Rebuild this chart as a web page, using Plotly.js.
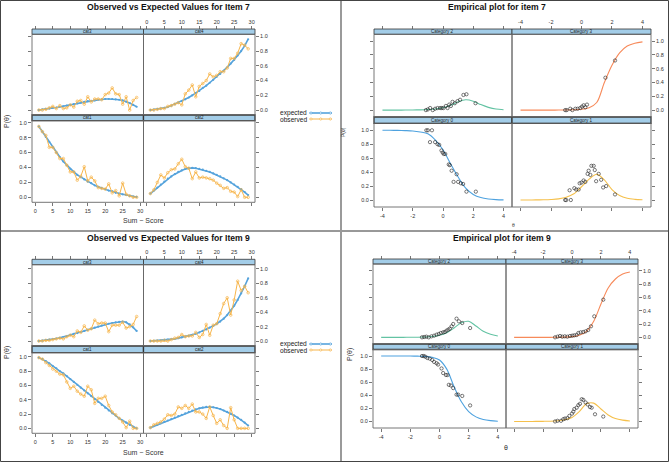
<!DOCTYPE html>
<html><head><meta charset="utf-8">
<script src="https://cdn.plot.ly/plotly-3.0.1.min.js"></script>
<style>html,body{margin:0;padding:0;background:#fff}#chart{width:669px;height:462px}</style>
</head><body><div id="chart"></div>
<script>
// ---------- DATA ----------
const sumScore = [1,2,3,4,5,6,7,8,9,10,11,12,13,14,15,16,17,18,19,20,21,22,23,24,25,26,27,28,29];

// Item 7 observed vs expected
const exp7_cat1 = [0.95,0.88,0.81,0.74,0.67,0.60,0.54,0.48,0.43,0.38,0.34,0.30,0.27,0.24,0.21,0.19,0.16,0.14,0.12,0.11,0.09,0.08,0.06,0.05,0.04,0.03,0.02,0.01,0.005];
const obs7_cat1 = [0.95,0.88,0.83,0.67,0.67,0.60,0.52,0.52,0.43,0.34,0.34,0.23,0.28,0.41,0.22,0.27,0.22,0.13,0.12,0.11,0.18,0.06,0.09,0.02,0.19,0.04,0.02,0.00,0.00];
const exp7_cat2 = [0.05,0.09,0.13,0.17,0.21,0.25,0.28,0.31,0.34,0.36,0.38,0.39,0.395,0.39,0.38,0.37,0.355,0.34,0.32,0.30,0.28,0.255,0.23,0.20,0.17,0.14,0.11,0.07,0.03];
const obs7_cat2 = [0.05,0.10,0.20,0.30,0.26,0.33,0.37,0.38,0.45,0.51,0.41,0.39,0.25,0.34,0.26,0.27,0.26,0.25,0.23,0.19,0.16,0.12,0.13,0.08,0.07,0.01,0.10,0.00,0.00];
const exp7_cat3 = [0.00,0.01,0.015,0.02,0.03,0.035,0.045,0.05,0.06,0.07,0.08,0.09,0.10,0.11,0.12,0.125,0.13,0.14,0.145,0.15,0.15,0.15,0.145,0.14,0.13,0.115,0.095,0.07,0.045];
const obs7_cat3 = [0.00,0.00,0.01,0.03,0.05,0.02,0.06,0.02,0.03,0.07,0.04,0.12,0.13,0.08,0.18,0.11,0.15,0.15,0.14,0.21,0.23,0.30,0.22,0.21,0.08,0.18,0.00,0.13,0.17];
const exp7_cat4 = [0.00,0.005,0.01,0.02,0.03,0.04,0.06,0.08,0.10,0.12,0.145,0.17,0.20,0.23,0.26,0.30,0.33,0.37,0.41,0.45,0.49,0.53,0.58,0.63,0.68,0.74,0.80,0.87,0.96];
const obs7_cat4 = [0.00,0.00,0.01,0.02,0.02,0.05,0.06,0.08,0.10,0.07,0.22,0.27,0.34,0.18,0.32,0.36,0.40,0.49,0.45,0.47,0.52,0.52,0.57,0.70,0.70,0.77,0.90,0.88,0.83];

// Item 9 observed vs expected
const exp9_cat1 = [0.99,0.97,0.94,0.91,0.87,0.84,0.80,0.77,0.73,0.69,0.65,0.61,0.57,0.53,0.49,0.45,0.41,0.37,0.33,0.29,0.25,0.21,0.18,0.14,0.11,0.08,0.05,0.02,0.00];
const obs9_cat1 = [0.99,0.97,0.92,0.88,0.83,0.80,0.76,0.75,0.65,0.56,0.59,0.52,0.48,0.45,0.59,0.54,0.35,0.42,0.42,0.45,0.32,0.23,0.19,0.14,0.09,0.01,0.10,0.00,0.00];
const exp9_cat2 = [0.01,0.03,0.05,0.07,0.09,0.11,0.13,0.15,0.17,0.19,0.21,0.23,0.25,0.265,0.28,0.29,0.30,0.30,0.295,0.285,0.27,0.25,0.23,0.205,0.18,0.15,0.12,0.08,0.04];
const obs9_cat2 = [0.01,0.05,0.07,0.09,0.13,0.19,0.18,0.20,0.30,0.28,0.32,0.28,0.34,0.23,0.23,0.20,0.14,0.30,0.18,0.07,0.12,0.04,0.00,0.29,0.12,0.00,0.00,0.00,0.00];
const exp9_cat3 = [0.00,0.005,0.01,0.02,0.025,0.035,0.045,0.055,0.07,0.085,0.10,0.11,0.125,0.14,0.155,0.17,0.185,0.20,0.215,0.23,0.24,0.25,0.26,0.265,0.27,0.26,0.23,0.19,0.14];
const obs9_cat3 = [0.00,0.00,0.01,0.01,0.02,0.03,0.04,0.03,0.06,0.08,0.06,0.14,0.12,0.21,0.15,0.17,0.29,0.24,0.25,0.25,0.13,0.22,0.22,0.22,0.26,0.18,0.20,0.23,0.34];
const exp9_cat4 = [0.00,0.003,0.006,0.01,0.015,0.02,0.025,0.03,0.04,0.05,0.06,0.07,0.085,0.10,0.12,0.14,0.16,0.185,0.21,0.24,0.27,0.31,0.36,0.42,0.49,0.57,0.66,0.76,0.87];
const obs9_cat4 = [0.00,0.00,0.00,0.00,0.01,0.00,0.02,0.04,0.05,0.09,0.06,0.07,0.07,0.12,0.05,0.09,0.23,0.08,0.22,0.24,0.38,0.52,0.60,0.36,0.57,0.83,0.70,0.76,0.67];

// Empirical plots: model curves
const thetaGrid = [-4,-3.5,-3,-2.5,-2,-1.5,-1,-0.5,0,0.5,1,1.5,2,2.5,3,3.5,4];
const curve7_c0 = [1.0,1.0,0.998,0.995,0.99,0.975,0.95,0.86,0.72,0.52,0.33,0.17,0.08,0.035,0.015,0.006,0.002];
const curve7_c1 = [0,0,0.002,0.004,0.008,0.017,0.04,0.09,0.19,0.30,0.37,0.29,0.15,0.065,0.025,0.01,0.004];
const curve7_c2 = [0,0,0,0.001,0.002,0.004,0.008,0.017,0.035,0.07,0.12,0.15,0.13,0.08,0.04,0.015,0.006];
const curve7_c3 = [0,0,0,0,0,0.001,0.002,0.005,0.012,0.035,0.11,0.40,0.65,0.83,0.93,0.97,0.99];
const curve9_c0 = [1.0,1.0,1.0,1.0,1.0,0.998,0.995,0.98,0.94,0.80,0.53,0.30,0.15,0.07,0.03,0.012,0.004];
const curve9_c1 = [0,0,0,0.001,0.002,0.004,0.01,0.025,0.06,0.15,0.27,0.28,0.19,0.10,0.045,0.02,0.008];
const curve9_c2 = [0,0,0,0,0.001,0.002,0.005,0.012,0.03,0.07,0.14,0.22,0.24,0.17,0.09,0.045,0.02];
const curve9_c3 = [0,0,0,0,0,0,0.001,0.003,0.01,0.03,0.09,0.24,0.50,0.74,0.875,0.95,0.98];

// Empirical plots: observed proportions
const th7c0 = [-1.1,-1.0,-0.86,-0.73,-0.52,-0.36,-0.25,-0.1,-0.02,0.05,0.15,0.38,0.45,0.57,0.7,0.9,1.0,1.18,1.33,1.55,2.17];
const p7c0  = [1.0,1.0,0.83,1.0,0.83,0.80,0.79,0.71,0.68,0.66,0.66,0.51,0.50,0.42,0.26,0.37,0.26,0.24,0.23,0.12,0.12];
const th7c1 = [-1.07,-1.0,-0.78,-0.7,-0.47,-0.35,-0.19,-0.12,0.0,0.14,0.25,0.4,0.47,0.58,0.65,0.8,0.87,0.96,1.13,1.29,1.42,1.62,2.2];
const p7c1  = [0.0,0.0,0.14,0.0,0.17,0.15,0.15,0.24,0.25,0.28,0.26,0.375,0.42,0.36,0.49,0.49,0.43,0.27,0.375,0.29,0.18,0.2,0.08];
const th7c2 = [-1.13,-1.0,-0.85,-0.68,-0.52,-0.36,-0.19,-0.08,0.03,0.19,0.3,0.41,0.52,0.63,0.78,0.96,1.13,1.35,1.55,2.15];
const p7c2  = [0.0,0.01,0.03,0.0,0.02,0.03,0.03,0.03,0.03,0.06,0.03,0.08,0.06,0.12,0.10,0.13,0.15,0.22,0.23,0.10];
const th7c3 = [-1.07,-0.97,-0.74,-0.6,-0.4,-0.25,-0.08,0.03,0.14,0.25,0.36,1.57,2.2];
const p7c3  = [0.0,0.0,0.02,0.0,0.02,0.02,0.03,0.05,0.07,0.04,0.08,0.47,0.72];
const th9c0 = [-1.2,-1.08,-0.97,-0.83,-0.67,-0.5,-0.37,-0.2,-0.1,0.14,0.25,0.44,0.55,0.64,0.78,0.94,1.17,1.28,1.56,2.1];
const p9c0  = [1.0,1.0,0.99,0.97,0.96,0.94,0.91,0.89,0.87,0.81,0.74,0.71,0.71,0.56,0.55,0.51,0.41,0.41,0.39,0.245];
const th9c1 = [-1.17,-1.0,-0.76,-0.6,-0.48,-0.32,-0.18,0.0,0.09,0.16,0.32,0.44,0.55,0.67,0.78,0.94,1.08,1.24,1.36,1.59,2.16];
const p9c1  = [0.0,0.01,0.01,0.035,0.045,0.05,0.085,0.12,0.15,0.19,0.21,0.25,0.27,0.34,0.33,0.29,0.26,0.22,0.21,0.11,0.075];
const th9c2 = [-1.2,-1.05,-0.9,-0.74,-0.55,-0.37,-0.2,-0.05,0.09,0.25,0.37,0.48,0.6,0.71,0.83,0.94,1.17,1.33,1.56,2.1];
const p9c2  = [0.0,0.005,0.01,0.0,0.015,0.025,0.04,0.05,0.065,0.075,0.08,0.10,0.115,0.13,0.165,0.20,0.28,0.24,0.215,0.14];
const th9c3 = [-1.17,-1.0,-0.83,-0.67,-0.5,-0.32,-0.14,0.02,0.16,0.32,0.44,0.6,0.78,0.94,1.12,1.31,1.54,2.16];
const p9c3  = [0.0,0.01,0.02,0.01,0.015,0.01,0.02,0.025,0.03,0.035,0.065,0.075,0.08,0.09,0.11,0.165,0.315,0.565];

const oeTicks = [0,5,10,15,20,25,30];
const empTicks = [-4,-2,0,2,4];
const empTickText = ['-4','-2','0','2','4'];
const pTicks = [0,0.2,0.4,0.6,0.8,1.0];
const pTickText = ['0.0','0.2','0.4','0.6','0.8','1.0'];

// ---------- STYLE / LAYOUT ----------
const W = 669, H = 462;
const FONT = 'Liberation Sans, Arial, Helvetica, sans-serif';
const BLUE = '#55a3dc', ORANGE = '#f7b54a';
const CAT_COL = ['#4ea2df', '#f5c04c', '#63c3a3', '#f78a5a'];
const STRIP = '#a3cde8';
const PX = p => p / W, PY = p => 1 - p / H;

const quads = [
  {kind:'oe', xL:[32,143.5], xR:[143.5,255], top:{s:29,d:34.3,b:115}, bot:{s:115,d:120.7,b:202.3},
   xr:[-0.96,30.96], yr:[-0.067,1.027], names:['cat3','cat4','cat1','cat2'],
   series:[[exp7_cat3,obs7_cat3],[exp7_cat4,obs7_cat4],[exp7_cat1,obs7_cat1],[exp7_cat2,obs7_cat2]],
   title:'Observed vs Expected Values for Item 7', tx:168, ty:7, xlab:[143,221], ylab:[7,122], leg:[113,119]},
  {kind:'emp', xL:[374,512], xR:[512,651], top:{s:29,d:34.3,b:117}, bot:{s:117,d:123.3,b:207},
   xr:[-4.56,4.56], yr:[-0.1,1.1], names:['Category 2','Category 3','Category 0','Category 1'],
   series:[[curve7_c2,th7c2,p7c2,2],[curve7_c3,th7c3,p7c3,3],[curve7_c0,th7c0,p7c0,0],[curve7_c1,th7c1,p7c1,1]],
   title:'Empirical plot for item 7', tx:497, ty:7, xlab:[513,225], ylab:[343,132], labsize:5},
  {kind:'oe', xL:[32,143.5], xR:[143.5,255], top:{s:259.3,d:264.7,b:346}, bot:{s:346,d:352.7,b:433.3},
   xr:[-0.96,30.96], yr:[-0.069,1.059], names:['cat3','cat4','cat1','cat2'],
   series:[[exp9_cat3,obs9_cat3],[exp9_cat4,obs9_cat4],[exp9_cat1,obs9_cat1],[exp9_cat2,obs9_cat2]],
   title:'Observed vs Expected Values for Item 9', tx:168, ty:238, xlab:[143,452], ylab:[7,353], leg:[344,350]},
  {kind:'emp', xL:[373,506], xR:[506,638], top:{s:259,d:264,b:344}, bot:{s:344,d:349.5,b:428},
   xr:[-4.56,4.56], yr:[-0.1,1.1], names:['Category 2','Category 3','Category 0','Category 1'],
   series:[[curve9_c2,th9c2,p9c2,2],[curve9_c3,th9c3,p9c3,3],[curve9_c0,th9c0,p9c0,0],[curve9_c1,th9c1,p9c1,1]],
   title:'Empirical plot for item 9', tx:502, ty:238, xlab:[506,447], ylab:[350,355], labsize:7}
];

const layout = {width:W, height:H, margin:{l:0,r:0,t:0,b:0}, paper_bgcolor:'#fff', plot_bgcolor:'rgba(0,0,0,0)',
  showlegend:false, font:{family:FONT, color:'#222'}, shapes:[], annotations:[]};
const traces = [];
let n = 0;
const tickfont = {size:5.5, color:'#333', family:FONT};

quads.forEach(q => {
  ['TL','TR','BL','BR'].forEach((pos, k) => {
    n++;
    const id = n === 1 ? '' : String(n);
    const isTop = pos[0] === 'T', isLeft = pos[1] === 'L';
    const xg = isLeft ? q.xL : q.xR;
    const rg = isTop ? q.top : q.bot;
    const labeled = (pos === 'BL' || pos === 'TR');
    const xa = {domain:[PX(xg[0]), PX(xg[1])], range:q.xr, showgrid:false, zeroline:false, showline:false,
      ticks:'outside', ticklen:3, tickwidth:0.8, tickcolor:'#555', showticklabels:labeled, tickfont:tickfont,
      side:isTop ? 'top' : 'bottom', fixedrange:true};
    if (q.kind === 'oe') { xa.tickvals = oeTicks; xa.ticktext = oeTicks.map(String); }
    else { xa.tickvals = empTicks; xa.ticktext = empTickText; }
    if (isTop) { xa.anchor = 'free'; xa.position = PY(rg.s); } else { xa.anchor = 'y' + id; }
    layout['xaxis' + id] = xa;
    layout['yaxis' + id] = {domain:[PY(rg.b), PY(rg.d)], range:q.yr, showgrid:false, zeroline:false, showline:false,
      ticks:'outside', ticklen:3, tickwidth:0.8, tickcolor:'#555', showticklabels:labeled, tickfont:tickfont,
      tickvals:pTicks, ticktext:pTickText, side:isLeft ? 'left' : 'right', anchor:'x' + id, fixedrange:true};

    const s = q.series[k];
    if (q.kind === 'oe') {
      traces.push({type:'scatter', mode:'lines+markers', x:sumScore, y:s[0], xaxis:'x'+id, yaxis:'y'+id,
        line:{color:BLUE, width:1.6}, marker:{color:BLUE, size:2.2, symbol:'circle'}, hoverinfo:'skip'});
      traces.push({type:'scatter', mode:'lines+markers', x:sumScore, y:s[1], xaxis:'x'+id, yaxis:'y'+id,
        line:{color:ORANGE, width:1}, marker:{color:ORANGE, size:2.6, symbol:'circle-open', line:{width:0.7}}, hoverinfo:'skip'});
    } else {
      traces.push({type:'scatter', mode:'lines', x:thetaGrid, y:s[0], xaxis:'x'+id, yaxis:'y'+id,
        line:{color:CAT_COL[s[3]], width:1.1, shape:'spline', smoothing:0.9}, hoverinfo:'skip'});
      traces.push({type:'scatter', mode:'markers', x:s[1], y:s[2], xaxis:'x'+id, yaxis:'y'+id,
        marker:{color:'#222', size:3.3, symbol:'circle-open', line:{width:0.6, color:'#222'}}, hoverinfo:'skip'});
    }
    // strip
    layout.shapes.push({type:'rect', xref:'paper', yref:'paper', x0:PX(xg[0]), x1:PX(xg[1]), y0:PY(rg.d), y1:PY(rg.s),
      fillcolor:STRIP, line:{color:'#333', width:isTop ? 0.8 : 1.3}, layer:'below'});
    // panel border
    layout.shapes.push({type:'rect', xref:'paper', yref:'paper', x0:PX(xg[0]), x1:PX(xg[1]), y0:PY(rg.b), y1:PY(rg.d),
      line:{color:'#666', width:0.9}, layer:'above'});
    layout.annotations.push({xref:'paper', yref:'paper', x:PX((xg[0]+xg[1])/2), y:PY((rg.s+rg.d)/2),
      text:q.names[k], showarrow:false, font:{size:4.5, color:'#222', family:FONT}, xanchor:'center', yanchor:'middle'});
  });
  // title
  layout.annotations.push({xref:'paper', yref:'paper', x:PX(q.tx), y:PY(q.ty), text:'<b>' + q.title + '</b>',
    showarrow:false, font:{size:8.6, color:'#111', family:FONT}, xanchor:'center', yanchor:'middle'});
  const ls = q.kind === 'oe' ? 7 : q.labsize;
  layout.annotations.push({xref:'paper', yref:'paper', x:PX(q.xlab[0]), y:PY(q.xlab[1]),
    text: q.kind === 'oe' ? 'Sum \u2212 Score' : '\u03b8', showarrow:false, font:{size:ls, color:'#333', family:FONT},
    xanchor:'center', yanchor:'middle'});
  layout.annotations.push({xref:'paper', yref:'paper', x:PX(q.ylab[0]), y:PY(q.ylab[1]), text:'P(\u03b8)', textangle:-90,
    showarrow:false, font:{size:ls, color:'#333', family:FONT}, xanchor:'center', yanchor:'middle'});
  if (q.leg) {
    [['expected', BLUE, q.leg[0], 1.6], ['observed', ORANGE, q.leg[1], 1]].forEach(e => {
      layout.annotations.push({xref:'paper', yref:'paper', x:PX(277.5), y:PY(e[2]), text:e[0], showarrow:false,
        font:{size:6.6, color:'#222', family:FONT}, xanchor:'left', yanchor:'middle'});
      layout.shapes.push({type:'line', xref:'paper', yref:'paper', x0:PX(309.5), x1:PX(332), y0:PY(e[2]), y1:PY(e[2]),
        line:{color:e[1], width:e[3]}});
      [311, 320.7, 330.3].forEach(cx => layout.shapes.push({type:'circle', xref:'paper', yref:'paper',
        x0:PX(cx-1.1), x1:PX(cx+1.1), y0:PY(e[2]+1.1), y1:PY(e[2]-1.1), line:{color:e[1], width:0.7}, fillcolor:'#fff'}));
    });
  }
});

// quadrant dividers and outer frame
layout.shapes.push({type:'line', xref:'paper', yref:'paper', x0:PX(0), x1:PX(W), y0:PY(231), y1:PY(231), line:{color:'#333', width:1}});
layout.shapes.push({type:'line', xref:'paper', yref:'paper', x0:PX(341), x1:PX(341), y0:PY(0), y1:PY(H), line:{color:'#9a9a9a', width:2}});
layout.shapes.push({type:'rect', xref:'paper', yref:'paper', x0:PX(0.5), x1:PX(668.5), y0:PY(461.5), y1:PY(0.5), line:{color:'#444', width:1}});

Plotly.newPlot('chart', traces, layout, {displayModeBar:false, staticPlot:true});
</script></body></html>
